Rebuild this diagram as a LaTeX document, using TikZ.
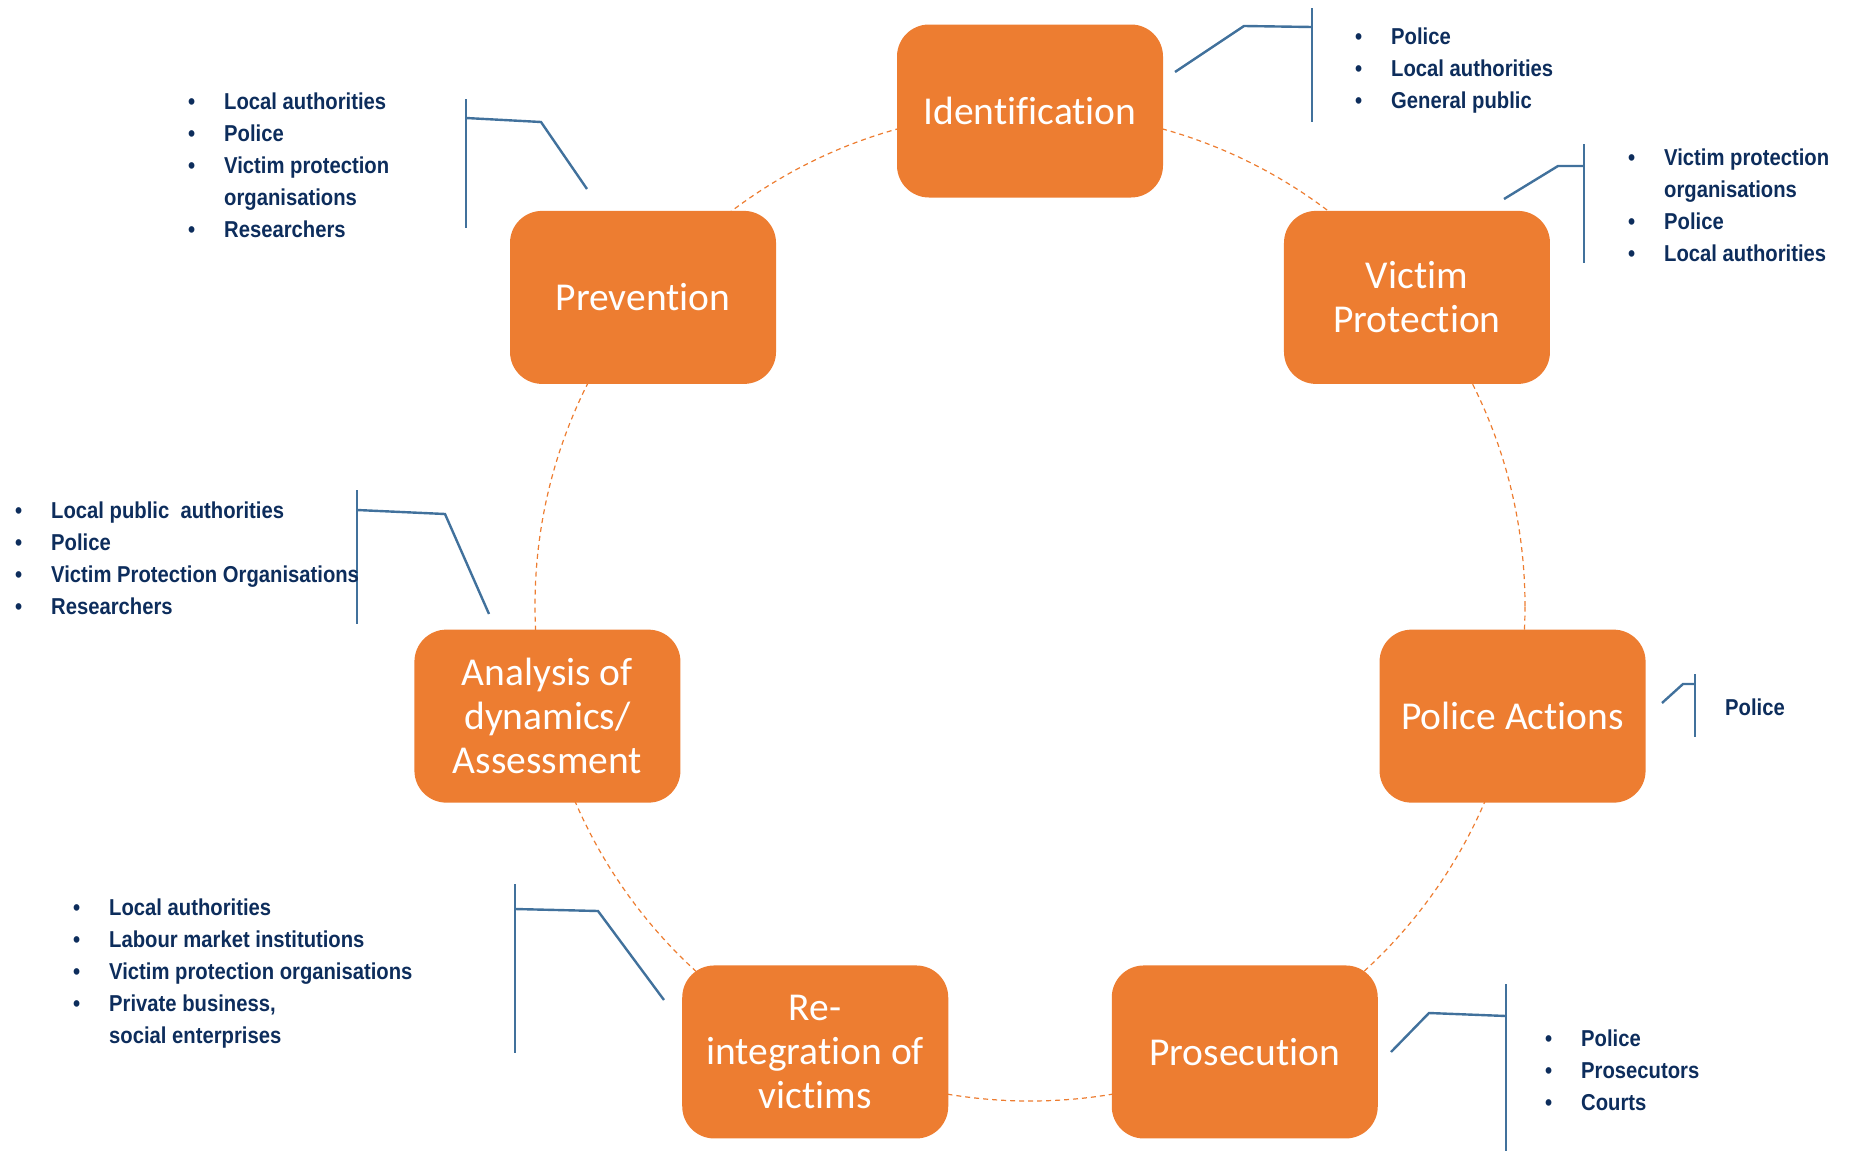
\documentclass[tikz,border=0pt]{standalone}
\usepackage{fontspec}
\setmainfont{Carlito}[Ligatures=CommonOff]
\newfontfamily\listfont[FakeStretch=0.88]{Liberation Sans}

\definecolor{boxorange}{HTML}{ED7D31}
\definecolor{linkblue}{HTML}{41719C}
\definecolor{listnavy}{HTML}{0D2D5C}
\newcommand{\itm}[1]{\makebox[36pt][l]{\textbullet}#1}
\newcommand{\cnt}[1]{\hspace*{36pt}#1}

\begin{document}
\begin{tikzpicture}[x=1pt,y=1pt,
    stage/.style={fill=boxorange,rounded corners=32pt,minimum width=266pt,
      minimum height=173pt,text=white,align=center,inner sep=0pt,
      font=\fontsize{39.5}{44}\selectfont},
    lst/.style={align=left,inner sep=0pt,text=listnavy,anchor=base west,
      font=\listfont\bfseries\fontsize{23}{32}\selectfont},
    callout/.style={draw=linkblue,line width=2.4pt},
    cycle/.style={draw=boxorange,line width=1.2pt,dash pattern=on 5pt off 4pt}]
      \useasboundingbox (0,0) rectangle (1856,-1151) ;
      % dashed ring behind the stages
      \coordinate (C) at (1030,-606) ;
      \draw[cycle] (C) circle (495) ;
      \begin{scope}[shift={(C)}]
        \node[stage] (ident) at (90:495) {Identification} ;
        \node[stage] (victim) at (38.571:495) {Victim\\Protection} ;
        \node[stage] (police) at (-12.857:495) {Police Actions} ;
        \node[stage] (prosec) at (-64.286:495) {Prosecution} ;
        \node[stage] (reinteg) at (-115.714:495) {Re-\\integration of\\victims} ;
        \node[stage] (analysis) at (-167.143:495) {Analysis of\\dynamics/\\Assessment} ;
        \node[stage] (prevent) at (141.429:495) {Prevention} ;
      \end{scope}
      % Identification (list nodes sit on the baseline of their last line)
      \coordinate (ident-s) at (1175,-72) ;
      \coordinate (ident-k) at (1244,-26) ;
      \coordinate (ident-t) at (1312,-8) ;
      \coordinate (ident-b) at (1312,-122) ;
      \draw[callout] (ident-s) -- (ident-k) -- (ident-t |- 0,-27) ;
      \draw[callout] (ident-t) -- (ident-b) ;
      \node[lst] (ident-l) at (1355,-108) {\itm{Police}\\\itm{Local authorities}\\\itm{General public}} ;
      % Victim Protection
      \coordinate (victim-s) at (1504,-199) ;
      \coordinate (victim-k) at (1558,-166) ;
      \coordinate (victim-t) at (1584,-144) ;
      \coordinate (victim-b) at (1584,-263) ;
      \draw[callout] (victim-s) -- (victim-k) -- (victim-t |- victim-k) ;
      \draw[callout] (victim-t) -- (victim-b) ;
      \node[lst] (victim-l) at (1628,-261) {\itm{Victim protection}\\\cnt{organisations}\\\itm{Police}\\\itm{Local authorities}} ;
      % Police Actions
      \coordinate (police-s) at (1662,-703) ;
      \coordinate (police-k) at (1683,-684) ;
      \coordinate (police-t) at (1695,-674) ;
      \coordinate (police-b) at (1695,-737) ;
      \draw[callout] (police-s) -- (police-k) -- (police-t |- police-k) ;
      \draw[callout] (police-t) -- (police-b) ;
      \node[lst] (police-l) at (1725,-715) {Police} ;
      % Prosecution
      \coordinate (prosec-s) at (1391,-1052) ;
      \coordinate (prosec-k) at (1429,-1013) ;
      \coordinate (prosec-t) at (1506,-984) ;
      \coordinate (prosec-b) at (1506,-1151) ;
      \draw[callout] (prosec-s) -- (prosec-k) -- (prosec-t |- 0,-1016) ;
      \draw[callout] (prosec-t) -- (prosec-b) ;
      \node[lst] (prosec-l) at (1545,-1110) {\itm{Police}\\\itm{Prosecutors}\\\itm{Courts}} ;
      % Re-integration
      \coordinate (reinteg-s) at (664,-1000) ;
      \coordinate (reinteg-k) at (598,-911) ;
      \coordinate (reinteg-t) at (515,-884) ;
      \coordinate (reinteg-b) at (515,-1053) ;
      \draw[callout] (reinteg-s) -- (reinteg-k) -- (reinteg-t |- 0,-909) ;
      \draw[callout] (reinteg-t) -- (reinteg-b) ;
      \node[lst] (reinteg-l) at (73,-1043) {\itm{Local authorities}\\\itm{Labour market institutions}\\\itm{Victim protection organisations}\\\itm{Private business,}\\\cnt{social enterprises}} ;
      % Analysis
      \coordinate (analysis-s) at (489,-614) ;
      \coordinate (analysis-k) at (445,-514) ;
      \coordinate (analysis-t) at (357,-490) ;
      \coordinate (analysis-b) at (357,-624) ;
      \draw[callout] (analysis-s) -- (analysis-k) -- (analysis-t |- 0,-510) ;
      \draw[callout] (analysis-t) -- (analysis-b) ;
      \node[lst] (analysis-l) at (15,-614) {\itm{Local public\ \ authorities}\\\itm{Police}\\\itm{Victim Protection Organisations}\\\itm{Researchers}} ;
      % Prevention
      \coordinate (prevent-s) at (587,-189) ;
      \coordinate (prevent-k) at (541,-122) ;
      \coordinate (prevent-t) at (466,-99) ;
      \coordinate (prevent-b) at (466,-228) ;
      \draw[callout] (prevent-s) -- (prevent-k) -- (prevent-t |- 0,-118) ;
      \draw[callout] (prevent-t) -- (prevent-b) ;
      \node[lst] (prevent-l) at (188,-237) {\itm{Local authorities}\\\itm{Police}\\\itm{Victim protection}\\\cnt{organisations}\\\itm{Researchers}} ;
    \end{tikzpicture}
\end{document}
